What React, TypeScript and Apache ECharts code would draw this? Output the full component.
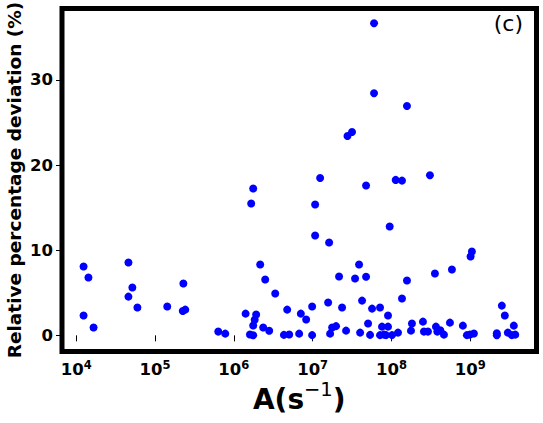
import React, { useEffect, useRef } from "react";
import * as echarts from "echarts";

// Transition rate A (s^-1)
const rateA: number[] = [
  1.24e4, 1.43e4, 1.24e4, 1.66e4, 4.6e4, 5.16e4, 4.6e4, 5.98e4, 1.43e5, 2.29e5,
  2.25e5, 2.42e5, 6.35e5, 7.79e5, 1.76e6, 1.66e6, 2.16e6, 2.5e6, 3.35e6, 1.41e6,
  1.92e6, 1.84e6, 1.76e6, 2.36e6, 2.81e6, 1.6e6, 1.76e6, 4.75e6, 4.32e6, 5.04e6,
  7.08e6, 6.74e6, 8.27e6, 9.85e6, 9.85e6, 1.075e7, 1.075e7, 1.244e7, 1.617e7, 1.571e7,
  1.665e7, 1.766e7, 1.983e7, 2.165e7, 2.363e7, 2.656e7, 2.766e7, 3.16e7, 3.45e7, 3.88e7,
  4.0e7, 4.235e7, 4.76e7, 4.76e7, 5.045e7, 5.35e7, 5.67e7, 6.01e7, 6.01e7, 7.16e7,
  7.16e7, 7.59e7, 8.04e7, 9.04e7, 8.53e7, 1.016e8, 9.04e7, 9.5e7, 1.132e8, 1.36e8,
  1.21e8, 1.36e8, 1.573e8, 1.573e8, 1.768e8, 1.82e8, 2.51e8, 2.584e8, 2.9e8, 3.077e8,
  3.56e8, 3.667e8, 3.82e8, 4.17e8, 4.63e8, 5.515e8, 5.85e8, 8.06e8, 9.06e8, 9.89e8,
  1.11e9, 1.009e9, 1.048e9, 2.17e9, 2.17e9, 2.514e9, 2.744e9, 2.995e9, 3.366e9, 3.72e9,
  3.567e9,
];

// Relative percentage deviation (%)
const deviation: number[] = [
  8.08, 6.79, 2.32, 0.91, 8.55, 5.61, 4.55, 3.26, 3.38, 6.08,
  2.86, 3.02, 0.44, 0.2, 17.26, 15.49, 8.32, 6.55, 4.91, 2.55,
  2.44, 1.82, 1.15, 0.91, 0.53, 0.09, 0.0, 3.02, 0.05, 0.1,
  2.55, 0.2, 1.85, 3.38, 0.02, 15.38, 11.73, 18.49, 10.91, 3.85,
  0.2, 0.91, 1.08, 6.91, 3.26, 0.55, 23.41, 23.88, 6.67, 8.32,
  0.32, 4.08, 6.88, 17.61, 1.38, 0.05, 3.14, 36.67, 28.44, 3.26,
  0.02, 1.02, 0.08, 1.02, 0.02, 0.02, 2.32, 12.79, 18.26, 18.18,
  0.32, 4.32, 6.44, 26.94, 0.55, 1.38, 1.61, 0.44, 0.44, 18.8,
  7.26, 1.02, 0.44, 0.59, 0.08, 1.49, 7.73, 1.14, 0.02, 0.08,
  0.21, 9.26, 9.85, 0.25, 0.0, 3.49, 2.32, 0.32, 0.02, 0.08,
  1.14,
];

const xTickExponents: number[] = [4, 5, 6, 7, 8, 9];
const yTicks: number[] = [0, 10, 20, 30];

const FONT = "DejaVu Sans";

export default function App() {
  const ref = useRef<HTMLDivElement>(null);

  useEffect(() => {
    if (!ref.current) return;
    const chart = echarts.init(ref.current, undefined, { renderer: "svg" });
    const data = rateA.map((a, i) => [a, deviation[i]]);
    const xTickValues = xTickExponents.map((e) => Math.pow(10, e));

    chart.setOption({
      animation: false,
      backgroundColor: "#ffffff",
      title: {
        text: "(c)",
        right: 20,
        top: 12,
        padding: 0,
        textStyle: {
          fontFamily: FONT,
          fontSize: 22,
          fontWeight: "normal",
          color: "#000",
        },
      },
      grid: {
        left: 62,
        right: 6.5,
        top: 8.5,
        bottom: 71.5,
        containLabel: false,
        outerBoundsMode: "none",
        show: true,
        borderColor: "#000",
        borderWidth: 5,
        backgroundColor: "transparent",
      },
      xAxis: {
        type: "log",
        logBase: 10,
        min: 6607,
        max: 6.92e9,
        axisLine: { show: false },
        splitLine: { show: false },
        minorTick: { show: false },
        axisTick: {
          show: true,
          length: 6,
          inside: false,
          customValues: xTickValues,
          lineStyle: { color: "#000", width: 1 },
        },
        axisLabel: {
          customValues: xTickValues,
          margin: 7,
          formatter: (v: number) => {
            const e = Math.log10(v);
            if (Math.abs(e - Math.round(e)) > 1e-6) return "";
            return "{b|10}{s|" + Math.round(e) + "}";
          },
          rich: {
            b: {
              fontFamily: FONT,
              fontSize: 16.5,
              fontWeight: "bold",
              color: "#000",
              lineHeight: 19,
              verticalAlign: "bottom",
            },
            s: {
              fontFamily: FONT,
              fontSize: 11.5,
              fontWeight: "bold",
              color: "#000",
              lineHeight: 11,
              verticalAlign: "top",
            },
          },
        },
        name: "{m|A(s}{s|−1}{m|)}",
        nameLocation: "middle",
        nameGap: 28,
        nameMoveOverlap: false,
        nameTextStyle: {
          rich: {
            m: {
              fontFamily: FONT,
              fontSize: 28,
              fontWeight: "bold",
              color: "#000",
              lineHeight: 34,
              verticalAlign: "bottom",
            },
            s: {
              fontFamily: FONT,
              fontSize: 19.5,
              fontWeight: "normal",
              color: "#000",
              lineHeight: 19,
              verticalAlign: "top",
            },
          },
        },
      },
      yAxis: {
        type: "value",
        min: -1.9,
        max: 38.4,
        axisLine: { show: false },
        splitLine: { show: false },
        axisTick: {
          show: true,
          length: 6,
          customValues: yTicks,
          lineStyle: { color: "#000", width: 1 },
        },
        axisLabel: {
          customValues: yTicks,
          margin: 9,
          fontFamily: FONT,
          fontSize: 16.5,
          fontWeight: "bold",
          color: "#000",
        },
        name: "Relative percentage deviation (%)",
        nameLocation: "middle",
        nameGap: 38,
        nameMoveOverlap: false,
        nameTextStyle: {
          fontFamily: FONT,
          fontSize: 18.5,
          fontWeight: "bold",
          color: "#000",
        },
      },
      series: [
        {
          type: "scatter",
          data,
          symbol: "circle",
          symbolSize: 8,
          itemStyle: { color: "#0000ff", opacity: 1 },
          z: 1,
        },
      ],
    });

    return () => {
      chart.dispose();
    };
  }, []);

  return (
    <div
      ref={ref}
      style={{ position: "absolute", left: 0, top: 0, width: 543, height: 423 }}
    />
  );
}
